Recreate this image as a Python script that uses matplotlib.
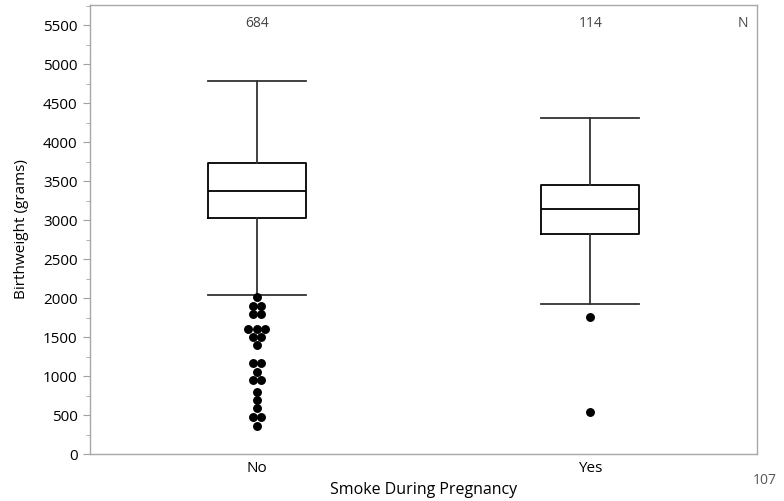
import matplotlib
matplotlib.use("Agg")
import matplotlib.pyplot as plt
from matplotlib.ticker import MultipleLocator
import numpy as np

categories = ["No", "Yes"]
counts = [684, 114]
whisker_low = [2042, 1919]
q1 = [3026, 2821]
median = [3368, 3141]
q3 = [3731, 3449]
whisker_high = [4786, 4308]
outliers_no = [2009, 1897, 1897, 1791, 1791, 1607, 1607, 1607, 1504, 1504, 1397,
               1162, 1162, 1056, 949, 949, 799, 692, 594, 470, 470, 359]
outliers_yes = [1760, 538]
outliers = [outliers_no, outliers_yes]
corner_note = "107"

plt.rcParams['font.family'] = ['Open Sans', 'DejaVu Sans']

fig = plt.figure(figsize=(7.84, 5.01), dpi=100)
ax = fig.add_axes([90/784, 1-454/501, (757-90)/784, (454-5)/501])

stats = []
for i, c in enumerate(categories):
    stats.append(dict(label=c, whislo=whisker_low[i], q1=q1[i], med=median[i],
                      q3=q3[i], whishi=whisker_high[i], fliers=[]))

pos = np.arange(len(categories))
ax.bxp(stats, positions=pos, widths=0.295, showfliers=False,
       boxprops=dict(color='black', linewidth=1.3),
       medianprops=dict(color='black', linewidth=1.3),
       whiskerprops=dict(color='#333333', linewidth=1.3),
       capprops=dict(color='#333333', linewidth=1.3),
       capwidths=0.295)

# outliers, spread side-by-side when values coincide
step = 0.025
for i, vals in enumerate(outliers):
    vals = np.array(vals)
    uniq = []
    for v in vals:
        if v not in uniq:
            uniq.append(v)
    for v in uniq:
        n = int(np.sum(vals == v))
        offs = (np.arange(n) - (n - 1) / 2) * step
        ax.plot(pos[i] + offs, [v] * n, 'o', color='black', markersize=5.4,
                linestyle='none')

ax.set_xlim(-0.5, 1.5)
ax.set_ylim(0, 5760)
ax.set_xticks(pos)
ax.set_xticklabels(categories, fontsize=11)
ax.yaxis.set_major_locator(MultipleLocator(500))
ax.yaxis.set_minor_locator(MultipleLocator(250))
ax.tick_params(axis='y', which='major', length=5, color='#a0a0a0', labelsize=11, pad=4)
ax.tick_params(axis='y', which='minor', length=3, color='#a0a0a0')
ax.tick_params(axis='x', length=0, labelsize=11, pad=5)
for s in ax.spines.values():
    s.set_color('#a8a8a8')
    s.set_linewidth(1.0)

ax.set_ylabel("Birthweight (grams)", fontsize=11, labelpad=10)
ax.set_xlabel("Smoke During Pregnancy", fontsize=11.5, labelpad=4)

for i, n in enumerate(counts):
    ax.text(pos[i], 5520, str(n), ha='center', va='center', fontsize=10, color='#444444')
ax.text(1.458, 5520, "N", ha='center', va='center', fontsize=10, color='#444444')
fig.text(765/784, 1-480/501, corner_note, ha='center', va='center', fontsize=10, color='#555555')

fig.savefig("out.png", dpi=100)
